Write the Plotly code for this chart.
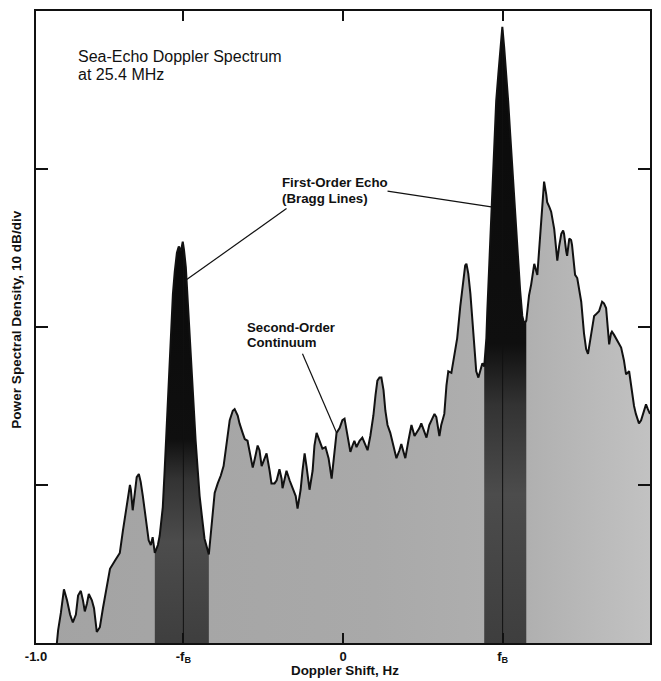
import numpy as np
import plotly.graph_objects as go

# Bragg frequency (normalised Doppler units)
F_BRAGG = 0.52

# Doppler shift (Hz) and received echo level above the noise floor (dB)
shift_hz = [
    # negative-side continuum
    -0.932, -0.928, -0.919, -0.909, -0.899, -0.889, -0.880, -0.870, -0.863, -0.854,
    -0.847, -0.841, -0.834, -0.828, -0.818, -0.811, -0.802, -0.792, -0.782, -0.772,
    -0.759, -0.743, -0.727, -0.717, -0.707, -0.701, -0.694, -0.691, -0.685, -0.678,
    -0.672, -0.665, -0.659, -0.652, -0.639, -0.633, -0.626, -0.620, -0.613,
    # negative Bragg line
    -0.603, -0.597, -0.587, -0.581, -0.574, -0.567, -0.561, -0.554, -0.548, -0.541,
    -0.535, -0.528, -0.522, -0.518, -0.512, -0.506, -0.499, -0.493, -0.486, -0.480,
    -0.473, -0.467, -0.460, -0.451, -0.437,
    # central continuum
    -0.428, -0.418, -0.408, -0.398, -0.389, -0.379, -0.369, -0.359, -0.353, -0.343,
    -0.337, -0.327, -0.320, -0.311, -0.301, -0.294, -0.288, -0.278, -0.272, -0.265,
    -0.255, -0.249, -0.239, -0.233, -0.223, -0.216, -0.207, -0.200, -0.197, -0.190,
    -0.184, -0.174, -0.164, -0.154, -0.148, -0.138, -0.132, -0.125, -0.119, -0.109,
    -0.099, -0.093, -0.086, -0.076, -0.067, -0.057, -0.047, -0.037, -0.031, -0.021,
    -0.011, -0.002, 0.005, 0.011, 0.018, 0.024, 0.031, 0.037, 0.044, 0.054,
    0.063, 0.073, 0.080, 0.089, 0.099, 0.106, 0.112, 0.119, 0.125, 0.132,
    0.138, 0.145, 0.154, 0.164, 0.174, 0.184, 0.190, 0.197, 0.203, 0.213,
    0.223, 0.233, 0.239, 0.249, 0.255, 0.265, 0.272, 0.281, 0.288, 0.298,
    0.304, 0.314, 0.320, 0.330, 0.337, 0.343, 0.353, 0.363, 0.372, 0.382,
    0.392, 0.398, 0.402, 0.408, 0.415, 0.421, 0.428, 0.434, 0.441, 0.447,
    0.454, 0.460,
    # positive Bragg line
    0.467, 0.470, 0.476, 0.483, 0.486, 0.493, 0.499, 0.506, 0.512, 0.519,
    0.525, 0.532, 0.538, 0.545, 0.551, 0.561, 0.571, 0.577, 0.584, 0.590,
    # positive-side continuum
    0.597, 0.606, 0.613, 0.623, 0.633, 0.639, 0.645, 0.652, 0.655, 0.662,
    0.665, 0.672, 0.678, 0.688, 0.694, 0.698, 0.704, 0.711, 0.717, 0.720,
    0.727, 0.730, 0.737, 0.743, 0.746, 0.753, 0.756, 0.763, 0.769, 0.776,
    0.785, 0.792, 0.798, 0.805, 0.811, 0.818, 0.824, 0.834, 0.844, 0.850,
    0.857, 0.863, 0.867, 0.873, 0.876, 0.883, 0.889, 0.899, 0.906, 0.915,
    0.922, 0.932, 0.941, 0.948, 0.954, 0.964, 0.971, 0.980, 0.987, 0.993,
    1.000,
]

level_db = [
    # negative-side continuum
    0.0, 0.8, 1.9, 3.4, 2.7, 1.8, 1.3, 1.8, 3.0, 3.3,
    2.7, 2.0, 2.5, 3.1, 2.7, 2.2, 0.7, 1.0, 2.2, 3.3,
    4.7, 5.2, 5.7, 7.1, 8.3, 9.3, 10.0, 9.7, 8.4, 9.5,
    10.5, 10.7, 10.2, 9.3, 7.6, 6.5, 6.2, 6.7, 5.7,
    # negative Bragg line
    6.2, 6.8, 8.6, 10.9, 13.9, 17.2, 20.1, 22.1, 23.5, 24.7,
    25.1, 24.8, 25.4, 24.9, 23.8, 21.6, 19.1, 16.9, 14.7, 12.8,
    10.9, 9.3, 8.1, 6.6, 5.6,
    # central continuum
    7.4, 9.5, 10.1, 10.6, 11.2, 12.8, 14.1, 14.7, 14.8, 14.4,
    13.9, 13.3, 12.9, 12.8, 11.9, 11.1, 11.6, 12.5, 12.2, 11.2,
    11.7, 12.0, 10.9, 10.1, 10.1, 10.3, 11.0, 10.4, 9.8, 10.4,
    10.9, 10.3, 9.8, 9.3, 8.5, 9.7, 10.9, 12.0, 11.2, 9.7,
    10.9, 12.5, 13.3, 12.8, 12.3, 12.4, 11.7, 10.4, 11.6, 13.3,
    13.6, 14.1, 14.2, 13.6, 12.8, 12.1, 12.5, 12.8, 12.4, 12.8,
    13.0, 12.5, 12.2, 13.1, 14.4, 15.7, 16.6, 16.8, 16.8, 16.0,
    14.7, 13.8, 13.3, 12.5, 11.7, 12.2, 12.6, 12.1, 11.7, 12.8,
    13.8, 13.1, 13.3, 13.6, 13.9, 13.3, 13.0, 13.8, 14.1, 14.5,
    14.3, 13.1, 13.8, 14.5, 16.3, 17.2, 17.1, 18.2, 19.3, 21.3,
    22.9, 23.9, 24.0, 23.4, 22.1, 20.7, 19.1, 17.2, 16.8, 17.2,
    17.7, 17.5,
    # positive Bragg line
    19.3, 21.0, 23.7, 27.0, 28.9, 31.7, 34.3, 36.0, 37.6, 39.0,
    37.7, 36.0, 34.3, 32.1, 30.2, 27.3, 24.5, 22.3, 20.7, 20.2,
    # positive-side continuum
    20.4, 22.0, 22.7, 24.0, 23.3, 24.8, 26.2, 28.3, 29.2, 28.4,
    27.9, 27.6, 27.3, 26.2, 24.8, 24.2, 25.1, 25.9, 26.1, 25.9,
    24.8, 24.5, 25.6, 25.5, 25.2, 23.8, 23.3, 23.1, 22.3, 21.6,
    19.6, 18.6, 18.3, 19.1, 19.9, 20.7, 20.8, 21.0, 21.6, 21.5,
    21.2, 19.4, 18.9, 19.6, 19.7, 19.5, 19.3, 18.9, 18.7, 17.9,
    17.0, 17.2, 15.8, 15.0, 14.5, 13.9, 14.1, 14.7, 15.1, 14.8,
    14.5,
]

# Frequency windows occupied by the two first-order (Bragg) lines
bragg_lo = [-0.613, 0.460]
bragg_hi = [-0.437, 0.597]
# Level above which each Bragg line is shaded solid
bragg_core_db = [13.0, 19.0]

x_ticks = [-1.0, -F_BRAGG, 0.0, F_BRAGG, 1.0]
x_labels = ["-1.0", "-f<sub>B</sub>", "0", "f<sub>B</sub>", "+1.0"]
y_ticks = [10, 20, 30]

FONT = "Liberation Sans, Arial, Helvetica, sans-serif"
INK = "#111111"

xs = np.array(shift_hz)
ys = np.array(level_db)


def window(lo, hi):
    inside = (xs > lo) & (xs < hi)
    bx = np.concatenate([[lo], xs[inside], [hi]])
    by = np.concatenate([[np.interp(lo, xs, ys)], ys[inside], [np.interp(hi, xs, ys)]])
    return bx, by


fig = go.Figure()

# second-order continuum (whole spectrum), a little paler towards +1 Hz
fig.add_trace(go.Scatter(
    x=xs, y=ys, mode="lines", fill="tozeroy", line=dict(width=0), hoverinfo="skip",
    fillgradient=dict(type="horizontal", start=-1, stop=1,
                      colorscale=[[0, "#a3a3a3"], [0.55, "#a9a9a9"],
                                  [0.8, "#b0b0b0"], [1, "#c2c2c2"]]),
))

# first-order Bragg lines: dark band shading to solid black towards the peak
for lo, hi, core in zip(bragg_lo, bragg_hi, bragg_core_db):
    bx, by = window(lo, hi)
    top = float(by.max())
    t = core / top
    fig.add_trace(go.Scatter(
        x=bx, y=by, mode="lines", fill="tozeroy", line=dict(width=0), hoverinfo="skip",
        fillgradient=dict(type="vertical", start=0, stop=top,
                          colorscale=[[0, "#3e3e3e"], [0.5 * t, "#4c4c4c"],
                                      [max(t - 0.1, 0.5 * t + 0.01), "#333333"],
                                      [t, "#0f0f0f"], [1, "#0a0a0a"]]),
    ))

# spectrum outline
fig.add_trace(go.Scatter(x=xs, y=ys, mode="lines",
                         line=dict(color=INK, width=2), hoverinfo="skip"))

# centre lines of the Bragg peaks
for fb in (-F_BRAGG, F_BRAGG):
    fig.add_shape(type="line", xref="x", yref="y", x0=fb, x1=fb, y0=0,
                  y1=float(np.interp(fb, xs, ys)), line=dict(color=INK, width=1))

# leader lines for the labels
leaders = [
    ((-0.184, 27.5), (-0.509, 23.0)),
    ((0.145, 28.6), (0.483, 27.6)),
    ((-0.132, 18.3), (-0.021, 13.3)),
]
for (x0, y0), (x1, y1) in leaders:
    fig.add_shape(type="line", xref="x", yref="y", x0=x0, y0=y0, x1=x1, y1=y1,
                  line=dict(color=INK, width=1.2))

notes = [
    ("Sea-Echo Doppler Spectrum", -0.866, 37.12, 16, "normal"),
    ("at 25.4 MHz", -0.866, 35.95, 16, "normal"),
    ("First-Order Echo", -0.202, 29.12, 13.3, "bold"),
    ("(Bragg Lines)", -0.202, 28.14, 13.3, "bold"),
    ("Second-Order", -0.316, 20.0, 13.2, "bold"),
    ("Continuum", -0.316, 19.02, 13.2, "bold"),
]
for text, x, y, size, weight in notes:
    fig.add_annotation(text=text, x=x, y=y, xref="x", yref="y", showarrow=False,
                       xanchor="left", yanchor="middle", borderpad=0,
                       font=dict(family=FONT, size=size, color=INK, weight=weight))

fig.add_annotation(text="Doppler Shift, Hz", x=0.503, y=-0.044, xref="paper", yref="paper",
                   showarrow=False, xanchor="center", yanchor="middle",
                   font=dict(family=FONT, size=13.4, color=INK, weight="bold"))
fig.add_annotation(text="Power Spectral Density, 10 dB/div", x=-0.031, y=0.513,
                   xref="paper", yref="paper", textangle=-90, showarrow=False,
                   xanchor="center", yanchor="middle",
                   font=dict(family=FONT, size=13.6, color=INK, weight="bold"))

fig.update_layout(
    width=661, height=681,
    margin=dict(l=36, r=10, t=9, b=38),
    paper_bgcolor="white", plot_bgcolor="white",
    showlegend=False,
    font=dict(family=FONT, color=INK),
    xaxis=dict(range=[-1, 1], tickvals=x_ticks, ticktext=x_labels,
               ticks="inside", ticklen=10, tickwidth=1.5, tickcolor=INK,
               showline=True, linecolor=INK, linewidth=2, mirror="ticks",
               showgrid=False, zeroline=False,
               tickfont=dict(family=FONT, size=13, color=INK, weight="bold")),
    yaxis=dict(range=[0, 40], tickvals=y_ticks, showticklabels=False,
               ticks="inside", ticklen=12, tickwidth=1.5, tickcolor=INK,
               showline=True, linecolor=INK, linewidth=2, mirror="ticks",
               showgrid=False, zeroline=False),
)

fig.write_html("out.html")
